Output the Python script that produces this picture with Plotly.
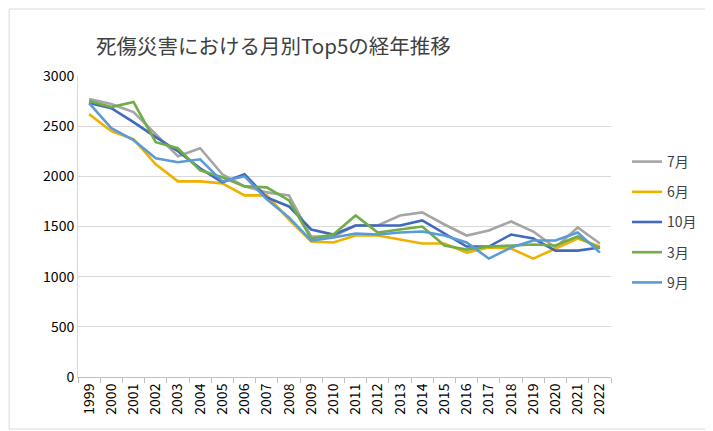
import plotly.graph_objects as go

years = [str(y) for y in range(1999, 2023)]
jul = [2770, 2720, 2640, 2420, 2200, 2280, 2020, 1900, 1840, 1810, 1400, 1400, 1510, 1510, 1610, 1640, 1520, 1410, 1460, 1550, 1450, 1290, 1490, 1330]
jun = [2620, 2450, 2370, 2120, 1950, 1950, 1930, 1810, 1810, 1570, 1350, 1340, 1410, 1410, 1370, 1330, 1330, 1240, 1290, 1280, 1180, 1280, 1380, 1300]
oct_ = [2730, 2680, 2540, 2390, 2250, 2080, 1940, 2020, 1790, 1700, 1470, 1420, 1510, 1510, 1510, 1560, 1430, 1300, 1300, 1420, 1380, 1260, 1260, 1290]
mar = [2750, 2690, 2740, 2340, 2280, 2060, 1990, 1900, 1890, 1760, 1380, 1420, 1610, 1440, 1470, 1500, 1310, 1270, 1300, 1310, 1320, 1310, 1400, 1280]
sep = [2730, 2480, 2360, 2180, 2140, 2170, 1950, 2000, 1770, 1590, 1360, 1390, 1430, 1420, 1440, 1450, 1410, 1340, 1180, 1290, 1360, 1360, 1440, 1240]

series = [("7月", jul, "#A5A5A5"), ("6月", jun, "#F0B000"), ("10月", oct_, "#4169BE"),
          ("3月", mar, "#70AD47"), ("9月", sep, "#5B9BD5")]

fig = go.Figure()
for i, (name, vals, col) in enumerate(series):
    fig.add_trace(go.Scatter(x=years, y=vals, mode="lines", name=name,
                             legendgroup=str(i),
                             line=dict(color=col, width=2.6)))

OFF = 8  # page body margin
W, H = 713 - OFF, 431 - OFF
l, r, t, b = 78 - OFF, 101, 76 - OFF, 54
pw, ph = W - l - r, H - t - b

fig.update_layout(
    width=W, height=H,
    margin=dict(l=l, r=r, t=t, b=b),
    paper_bgcolor="white", plot_bgcolor="white",
    font=dict(family="Noto Sans CJK JP, Noto Sans, sans-serif", size=13, color="#404040"),
    title=dict(text="死傷災害における月別Top5の経年推移", x=(96 - OFF) / W, xanchor="left",
               y=1 - (47 - OFF) / H, yanchor="middle",
               font=dict(size=20.5, color="#404040")),
    showlegend=True,
    legend=dict(x=(627 - 78) / pw, xanchor="left", y=1 - (146 - 76) / ph, yanchor="top",
                tracegroupgap=9, font=dict(size=14, color="#404040"),
                itemwidth=30, bgcolor="rgba(0,0,0,0)"),
    xaxis=dict(type="category", tickangle=-90, showgrid=False,
               showline=True, linecolor="#BFBFBF", linewidth=1,
               ticks="outside", tickson="boundaries", ticklen=5, tickcolor="#BFBFBF",
               tickfont=dict(size=14, color="#000000"), range=[-0.5, 23.5]),
    yaxis=dict(range=[0, 3000], dtick=500, showgrid=True, gridcolor="#D9D9D9",
               gridwidth=1, showline=True, linecolor="#D9D9D9", zeroline=False,
               ticks="", tickfont=dict(size=14, color="#000000")),
    shapes=[dict(type="rect", xref="paper", yref="paper",
                 x0=-(l - 1) / pw, x1=1 + (r - 2) / pw,
                 y0=-(b - 2) / ph, y1=1 + (t - 1) / ph,
                 line=dict(color="#D9D9D9", width=1))],
)

fig.write_html("out.html")
